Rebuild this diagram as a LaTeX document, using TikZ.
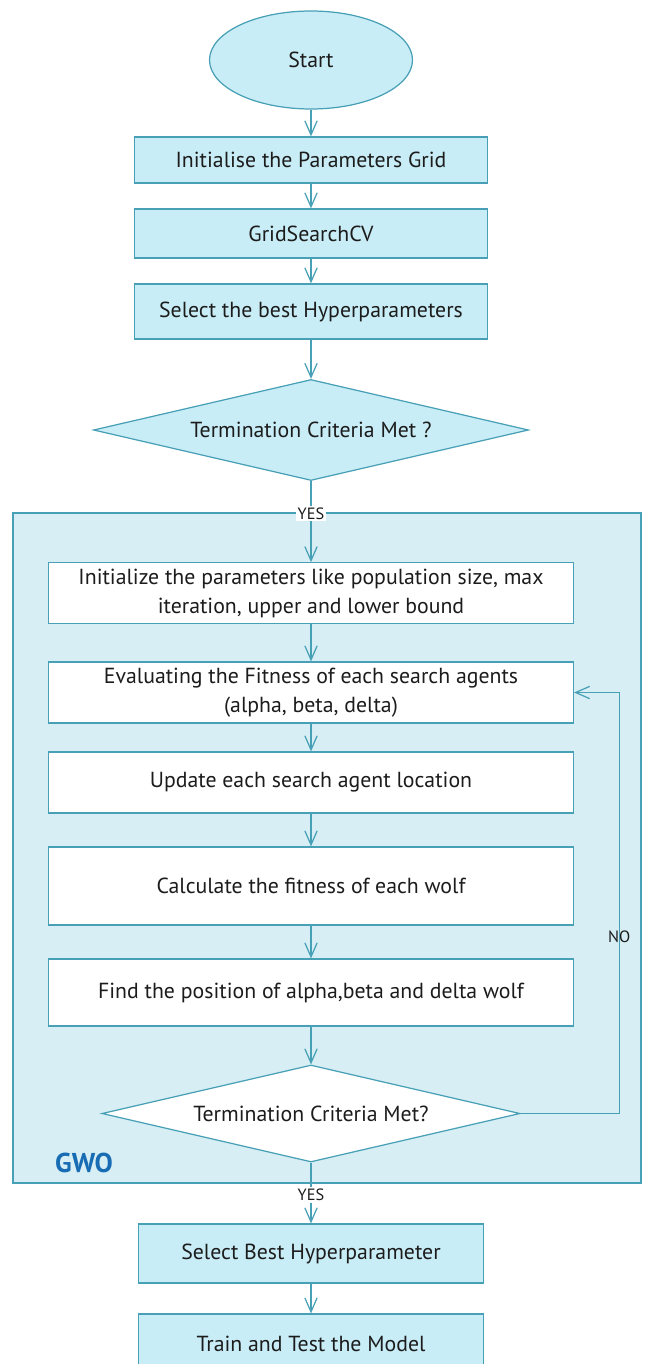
\documentclass[tikz,border=0pt]{standalone}
\usepackage{fontspec}
\setmainfont{PT Sans}
\usepackage{tikz}
\usetikzlibrary{arrows.meta,positioning,shapes.geometric}
\usepackage{xcolor}
\definecolor{gwoline}{RGB}{72,160,182}
\definecolor{gwofill}{RGB}{201,237,246}
\definecolor{gwoback}{RGB}{214,238,244}
\definecolor{gwotitle}{RGB}{24,108,180}
\definecolor{gwotext}{RGB}{28,28,28}
\tikzset{
  startnode/.style={ellipse, draw=gwoline, fill=gwofill, text=gwotext, line width=0.7pt,
    minimum width=4.06cm, minimum height=1.96cm},
  stepbox/.style={rectangle, draw=gwoline, fill=gwofill, text=gwotext, line width=0.7pt,
    minimum width=7.05cm, align=center},
  wolfbox/.style={rectangle, draw=gwoline, fill=white, text=gwotext, line width=0.7pt,
    minimum width=10.5cm, align=center},
  decision/.style={diamond, aspect=4.3, inner sep=0pt, draw=gwoline, text=gwotext,
    line width=0.7pt},
  answer/.style={text=gwotext, font=\fontsize{9.3}{11}\selectfont, inner sep=1pt}
}

\begin{document}
\begin{tikzpicture}[->, >={Straight Barb[length=8pt,width=7pt]}, node distance=2cm,
    font=\fontsize{12.4}{16.5}\selectfont,
    every edge/.style={draw=gwoline, line width=0.7pt}]
  \useasboundingbox (-6.22,1.2) rectangle (6.68,-26.08);
  % GWO loop frame
  \draw[-, draw=gwoline, fill=gwoback, line width=0.7pt] (-5.96,-9.06) rectangle (6.6,-22.46);

  \node[startnode]                       (start) {Start};
  \node[stepbox, minimum height=0.92cm]  (init)  [below of = start, node distance=2cm] {Initialise the Parameters Grid};
  \node[stepbox, minimum height=0.98cm]  (grid)  [below of = init, node distance=1.47cm] {GridSearchCV};
  \node[stepbox, minimum height=1.1cm]   (best)  [below of = grid, node distance=1.56cm] {Select the best Hyperparameters};
  \node[decision, fill=gwofill, minimum width=8.7cm, minimum height=2.02cm]
                                         (term)  [below of = best, node distance=2.37cm] {Termination Criteria Met ?};
  \node[wolfbox, minimum height=1.16cm]  (setup) [below of = term, node distance=3.26cm]
        {Initialize the parameters like population size, max\\iteration, upper and lower bound};
  \node[wolfbox, minimum height=1.22cm]  (fitness) [below of = setup, node distance=1.99cm]
        {Evaluating the Fitness of each search agents\\(alpha, beta, delta)};
  \node[wolfbox, minimum height=1.22cm]  (update) [below of = fitness, node distance=1.8cm] {Update each search agent location};
  \node[wolfbox, minimum height=1.56cm]  (wolffit) [below of = update, node distance=2.07cm] {Calculate the fitness of each wolf};
  \node[wolfbox, minimum height=1.34cm]  (leaders) [below of = wolffit, node distance=2.13cm] {Find the position of alpha,beta and delta wolf};
  \node[decision, fill=white, minimum width=8.36cm, minimum height=1.94cm]
                                         (stop)  [below of = leaders, node distance=2.42cm] {Termination Criteria Met?};
  \node[stepbox, minimum width=6.9cm, minimum height=1.18cm] (select) [below of = stop, node distance=2.8cm] {Select Best Hyperparameter};
  \node[stepbox, minimum width=6.9cm, minimum height=1.18cm] (train)  [below of = select, node distance=1.8cm] {Train and Test the Model};

  \node[text=gwotitle, font=\fontsize{15.5}{18}\selectfont\bfseries] (gwo) at (-4.54,-22.06) {GWO};

  \path (start)   edge (init)
        (init)    edge (grid)
        (grid)    edge (best)
        (best)    edge (term)
        (term)    edge node[answer, fill=white, pos=0.4] {YES} (setup)
        (setup)   edge (fitness)
        (fitness) edge (update)
        (update)  edge (wolffit)
        (wolffit) edge (leaders)
        (leaders) edge (stop)
        (stop)    edge node[answer, fill=white, pos=0.53] {YES} (select)
        (select)  edge (train);
  \draw[draw=gwoline, line width=0.7pt] (stop.east) -| ([xshift=0.9cm]fitness.east)
        node[answer, pos=0.71] {NO} -- (fitness.east);
\end{tikzpicture}
\end{document}
